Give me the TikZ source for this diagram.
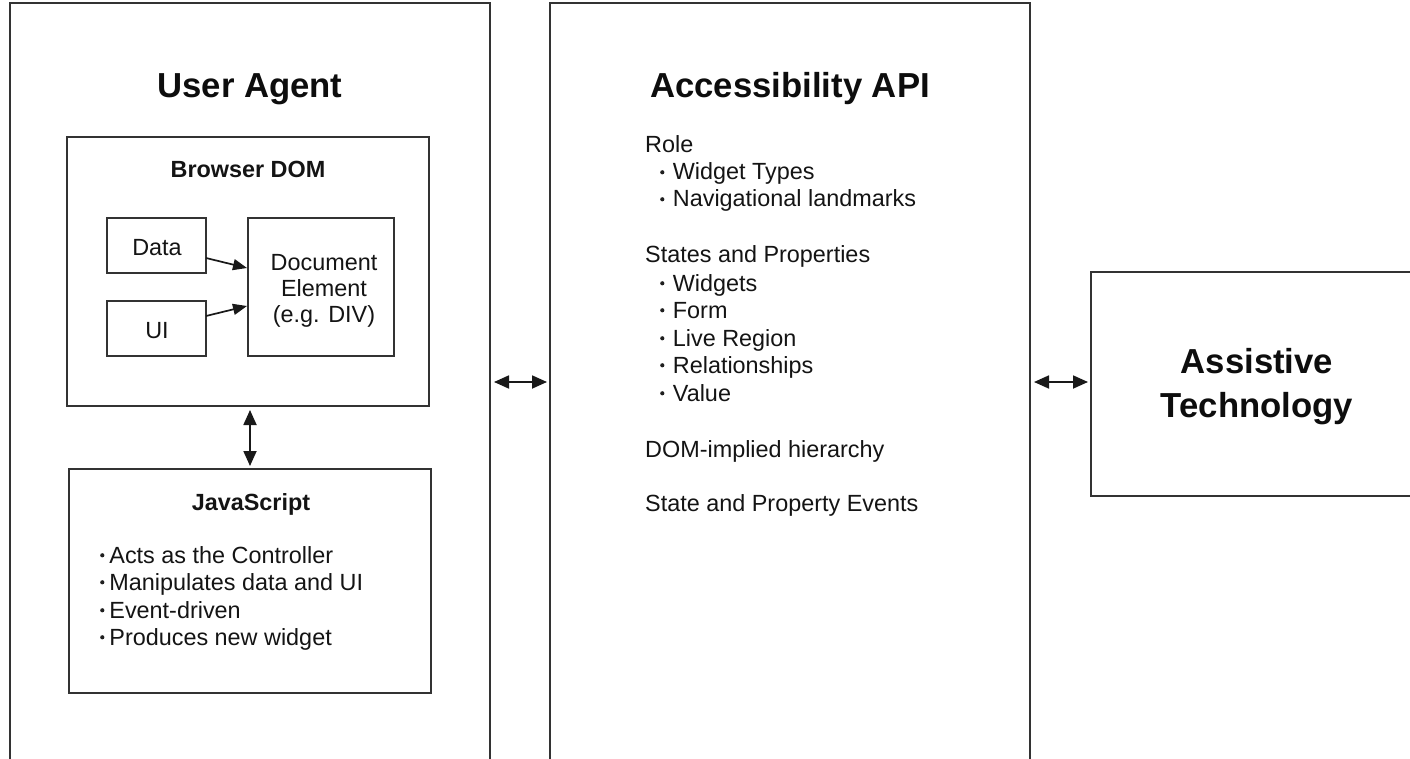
\documentclass[tikz,border=0pt]{standalone}
\usepackage{fontspec}
\setmainfont{Liberation Sans}
\usetikzlibrary{arrows.meta,fit}
\newcommand\bulletdot{\raisebox{0.24em}{\tikz\fill[black!88] (0,0) circle (2.1pt);}}
\begin{document}
\begin{tikzpicture}[x=1pt,y=-1pt,
  box/.style={draw=black!80, line width=1.7pt, inner sep=0pt, outer sep=0pt, fill=none},
  ttl/.style={font=\fontsize{34.7}{40}\selectfont\bfseries, text=black!95, inner sep=0pt, anchor=base},
  sub/.style={font=\fontsize{23.4}{28}\selectfont\bfseries, text=black!92, inner sep=0pt, anchor=base},
  txt/.style={font=\fontsize{23.4}{27.5}\selectfont, text=black!92, inner sep=0pt, anchor=base west},
  ctxt/.style={font=\fontsize{23.4}{27.5}\selectfont, text=black!92, inner sep=0pt, anchor=base},
  dbl/.style={line width=1.8pt, draw=black!90, {Triangle[length=15pt,width=13pt]}-{Triangle[length=15pt,width=13pt]}},
  one/.style={line width=1.7pt, draw=black!90, -{Triangle[length=14pt,width=11pt]}}
]
\useasboundingbox (0,0) rectangle (1410,759);
\clip (0,0) rectangle (1410,759);
\fill[white] (0,0) rectangle (1410,759);

% outer boxes
\node[box, fit={(10,3) (490,800)}] (ua) {};
\node[box, fit={(550,3) (1030,800)}] (api) {};
\node[box, fit={(1091,272) (1440,496)}] (at) {};

% inner boxes
\node[box, fit={(67,137) (429,406)}] (dom) {};
\node[box, fit={(107,218) (206,273)}] (data) {};
\node[box, fit={(107,301) (206,356)}] (ui) {};
\node[box, fit={(248,218) (394,356)}] (doc) {};
\node[box, fit={(69,469) (431,693)}] (js) {};

% titles
\node[ttl] (tua) at (250,98) {User Agent};
\node[ttl] (tapi) at (790,98) {Accessibility API};
\node[ttl] (tat1) at (1257,373) {Assistive};
\node[ttl] (tat2) at (1257,417) {Technology};

\node[sub] (tdom) at (248,178) {Browser DOM};
\node[sub] (tjs) at (251,510) {JavaScript};

\node[ctxt] (tdata) at (157,255) {Data};
\node[ctxt] (tui) at (157,338) {UI};
\node[ctxt] (tdoc1) at (324,270) {Document};
\node[ctxt] (tdoc2) at (324,296) {Element};
\node[ctxt] (tdoc3) at (324,322) {(e.g. DIV)};

% JS list
\node[txt] (j1) at (100,563) {\bulletdot\hspace{5pt}Acts as the Controller};
\node[txt] (j2) at (100,590) {\bulletdot\hspace{5pt}Manipulates data and UI};
\node[txt] (j3) at (100,618) {\bulletdot\hspace{5pt}Event-driven};
\node[txt] (j4) at (100,645) {\bulletdot\hspace{5pt}Produces new widget};

% API list
\node[txt] (a1) at (645,153) {Role};
\node[txt] (a2) at (660,180) {\bulletdot\hspace{8.5pt}Widget Types};
\node[txt] (a3) at (660,207) {\bulletdot\hspace{8.5pt}Navigational landmarks};
\node[txt] (a4) at (645,263) {States and Properties};
\node[txt] (a5) at (660,291) {\bulletdot\hspace{8.5pt}Widgets};
\node[txt] (a6) at (660,318) {\bulletdot\hspace{8.5pt}Form};
\node[txt] (a7) at (660,346) {\bulletdot\hspace{8.5pt}Live Region};
\node[txt] (a8) at (660,373) {\bulletdot\hspace{8.5pt}Relationships};
\node[txt] (a9) at (660,401) {\bulletdot\hspace{8.5pt}Value};
\node[txt] (a10) at (645,457) {DOM-implied hierarchy};
\node[txt] (a11) at (645,511) {State and Property Events};

% connectors
\draw[one] (data.east |- 0,258) -- ([xshift=-1pt]doc.west |- 0,268);
\draw[one] (ui.east |- 0,316) -- ([xshift=-1pt]doc.west |- 0,306);
\draw[dbl] ([yshift=-4pt]dom.south -| 250,0) -- ([yshift=3pt]js.north -| 250,0);
\draw[dbl] ([xshift=4pt]ua.east |- 0,382) -- ([xshift=-3pt]api.west |- 0,382);
\draw[dbl] ([xshift=4pt]api.east |- 0,382) -- ([xshift=-3pt]at.west |- 0,382);
\end{tikzpicture}
\end{document}
